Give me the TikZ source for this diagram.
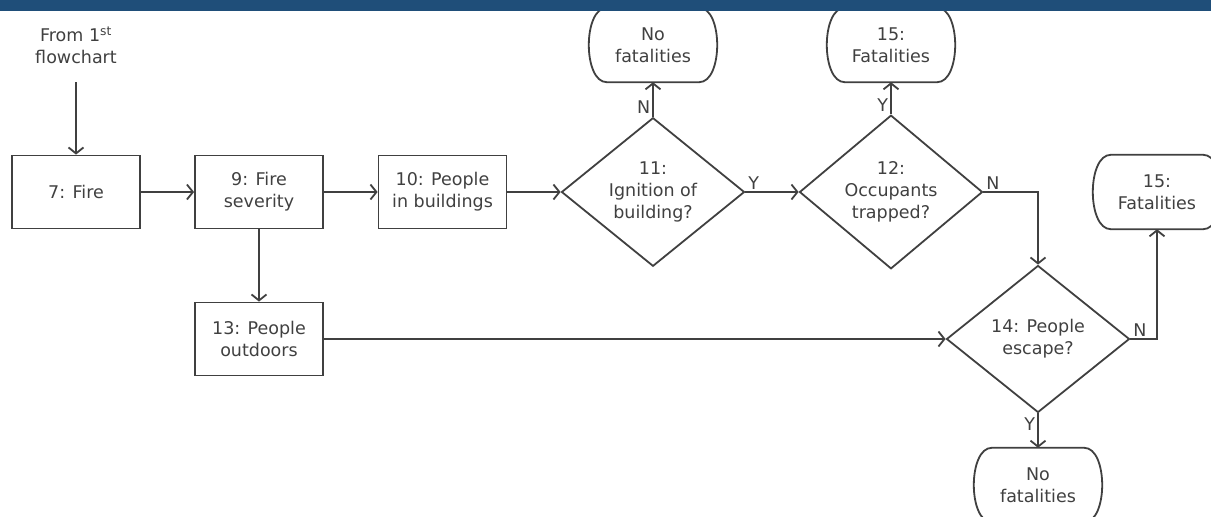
\documentclass[tikz,border=0pt]{standalone}
\usepackage{fontspec}
\setmainfont{DejaVu Sans}
\usetikzlibrary{shapes.geometric,arrows.meta,calc}
\definecolor{cus-bar}{RGB}{31,78,121}
\definecolor{cus-ink}{RGB}{64,64,64}

\begin{document}
\begin{tikzpicture}[x=1pt,y=-1pt,
	font=\fontsize{17.5}{22}\selectfont,
	every node/.style={text=cus-ink},
	arr/.style={draw=cus-ink,line width=1.8pt,-{Straight Barb[length=6pt,width=15pt,line width=1.8pt]}},
	proc/.style={draw=cus-ink,line width=1.8pt,minimum width=128,minimum height=73,inner sep=0pt,align=center},
	decision/.style={diamond,draw=cus-ink,line width=1.8pt,minimum width=183,minimum height=147,inner sep=0pt,align=center},
	terminal/.style={minimum width=128,minimum height=74,inner sep=0pt,align=center},
	yn/.style={inner sep=2pt}]
\useasboundingbox (0,0) rectangle (1211,517);
\clip (0,0) rectangle (1211,517);
\node (from) at (76,45) [align=center] {From 1\textsuperscript{st}\\flowchart};
\coordinate (src) at (76,82);
\node[proc] (fire) at (76,192) {7: Fire};
\node[proc] (sev) at (259,192) {9: Fire\\severity};
\node[proc] (bld) at (442.5,192) {10: People\\in buildings};
\node[proc] (out) at (259,339) {13: People\\outdoors};
\node[decision] (ign) at (653,192) {11:\\Ignition of\\building?};
\node[decision] (trap) at (891,192) {12:\\Occupants\\trapped?};
\node[decision] (esc) at (1038,339) {14: People\\escape?};
\node[terminal] (nof1) at (653,45) {No\\fatalities};
\node[terminal] (fat1) at (891,45) {15:\\Fatalities};
\node[terminal] (fat2) at (1157,192) {15:\\Fatalities};
\node[terminal] (nof2) at (1038,485) {No\\fatalities};
\foreach \t in {nof1,fat1,fat2,nof2}{
	\draw[cus-ink,line width=1.8pt] ($(\t.north west)+(18,0)$) -- ($(\t.north east)+(-18,0)$)
		.. controls ($(\t.north east)+(6,0)$) and ($(\t.south east)+(6,0)$) .. ($(\t.south east)+(-18,0)$)
		-- ($(\t.south west)+(18,0)$)
		.. controls ($(\t.south west)+(-6,0)$) and ($(\t.north west)+(-6,0)$) .. cycle;
}
\draw[arr] (src) -- (fire);
\draw[arr] (fire) -- (sev);
\draw[arr] (sev) -- (bld);
\draw[arr] (bld) -- (ign);
\draw[arr] (sev) -- (out);
\draw[arr] (out) -- (esc);
\draw[arr] (ign) -- node[yn,pos=0,anchor=south west]{Y} (trap);
\draw[arr] (ign) -- node[yn,pos=0.28,left]{N} (nof1);
\draw[arr] (trap) -- node[yn,pos=0.28,left]{Y} (fat1);
\draw[arr] (trap.east) -| node[yn,pos=0,anchor=south west]{N} (esc.north);
\draw[arr] (esc.east) -| node[yn,pos=0,anchor=south west]{N} (fat2.south);
\draw[arr] (esc) -- node[yn,pos=0.3,left]{Y} (nof2);
\fill[cus-bar] (0,0) rectangle (1211,10.5);
\end{tikzpicture}
\end{document}
